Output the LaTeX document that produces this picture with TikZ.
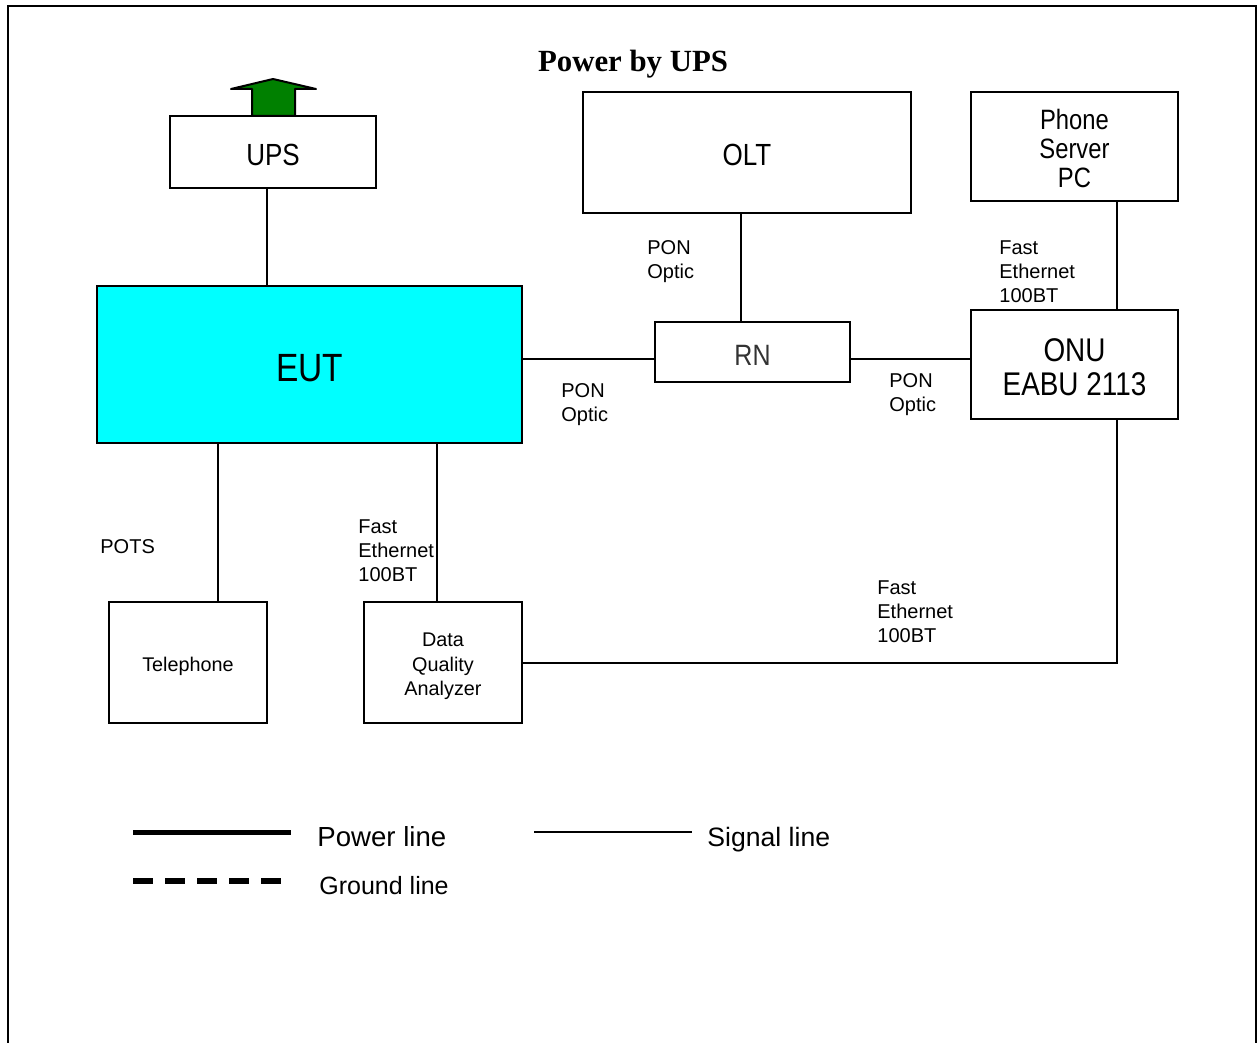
\documentclass[tikz,border=0pt]{standalone}
\usepackage{fontspec}
\setmainfont{Liberation Sans}
\newfontfamily\narrowfont{Liberation Sans}[FakeStretch=0.85]
\newfontfamily\titlefont{Liberation Serif}
\definecolor{eutcyan}{RGB}{0,255,255}
\definecolor{upsgreen}{RGB}{0,128,0}
\newcommand{\dn}[2]{\raisebox{-#1}[\height][\depth]{#2}}
\newcommand{\dnstack}[2]{\dn{#1}{\begin{tabular}{@{}c@{}}#2\end{tabular}}}
\tikzset{
  box/.style={draw, line width=1pt, inner sep=0pt, align=center},
  conn/.style={line width=1pt},
  lbl/.style={inner sep=0pt, anchor=north west, align=left, font=\fontsize{10pt}{12pt}\selectfont},
  bigtxt/.style={font=\narrowfont\fontsize{15.3pt}{17pt}\selectfont},
}
\begin{document}
\begin{tikzpicture}[x=0.5pt,y=-0.5pt]
\useasboundingbox (0,0) rectangle (1260,1043);
% frame
\draw[line width=1.2pt] (8,1043) -- (8,6) -- (1256,6) -- (1256,1043);
% title
\node[anchor=base, inner sep=0pt, font=\titlefont\bfseries\fontsize{15.4pt}{18pt}\selectfont] (title) at (633,72) {Power by UPS};
% boxes
\node[box, bigtxt, minimum width=103pt, minimum height=36pt] (ups) at (273,152) {\dn{1.5pt}{UPS}};
\node[box, fill=eutcyan, font=\narrowfont\fontsize{19.7pt}{22pt}\selectfont, minimum width=212.5pt, minimum height=78.5pt] (eut) at (309.5,364.5) {\dn{2pt}{EUT}};
\node[box, bigtxt, minimum width=164pt, minimum height=60.5pt] (olt) at (747,152.5) {\dn{1pt}{OLT}};
\node[box, font=\narrowfont\fontsize{14pt}{14.5pt}\selectfont, minimum width=103.5pt, minimum height=54.5pt] (psp) at (1074.5,146.5) {\dnstack{3pt}{Phone\\Server\\PC}};
\node[box, font=\narrowfont\fontsize{14.7pt}{17pt}\selectfont, text=black!80, minimum width=97.5pt, minimum height=30pt] (rn) at (752.5,352.5) {\dn{1.5pt}{RN}};
\node[box, font=\narrowfont\fontsize{16.4pt}{17pt}\selectfont, minimum width=103.5pt, minimum height=54.5pt] (onu) at (1074.5,364.5) {\dnstack{3.5pt}{ONU\\EABU 2113}};
\node[box, font=\fontsize{9.9pt}{12pt}\selectfont, minimum width=79pt, minimum height=60.5pt] (tel) at (188,662.5) {\dn{2pt}{Telephone}};
\node[box, font=\fontsize{9.9pt}{12.25pt}\selectfont, minimum width=79pt, minimum height=60.5pt] (dqa) at (443,662.5) {\dnstack{2pt}{Data\\Quality\\Analyzer}};
% UPS arrow
\draw[line width=1pt, fill=upsgreen, line join=round] (252,116) -- (252,89) -- (231,89) -- (273,79) -- (316,89) -- (295,89) -- (295,116) -- cycle;
% helper coordinates
\coordinate (hx) at (0,359);
\coordinate (vu) at (267,0);
\coordinate (vo) at (741,0);
\coordinate (vp) at (1117,0);
\coordinate (vt) at (218,0);
\coordinate (vd) at (437,0);
% connectors
\draw[conn] (ups.south -| vu) -- (eut.north -| vu);
\draw[conn] (olt.south -| vo) -- (rn.north -| vo);
\draw[conn] (eut.east |- hx) -- (rn.west |- hx);
\draw[conn] (rn.east |- hx) -- (onu.west |- hx);
\draw[conn] (psp.south -| vp) -- (onu.north -| vp);
\draw[conn] (onu.south -| vp) |- (dqa.east);
\draw[conn] (eut.south -| vt) -- (tel.north -| vt);
\draw[conn] (eut.south -| vd) -- (dqa.north -| vd);
% labels
\node[lbl] (l1) at (647,240) {PON\\Optic};
\node[lbl] (l2) at (999,240) {Fast\\Ethernet\\100BT};
\node[lbl] (l3) at (561,383) {PON\\Optic};
\node[lbl] (l4) at (889,373) {PON\\Optic};
\node[lbl] (l5) at (100,539) {POTS};
\node[lbl] (l6) at (358,519) {Fast\\Ethernet\\100BT};
\node[lbl] (l7) at (877,580) {Fast\\Ethernet\\100BT};
% legend
\coordinate (pa) at (133,832); \coordinate (pb) at (291,832);
\coordinate (sa) at (534,832); \coordinate (sb) at (692,832);
\coordinate (ga) at (133,881); \coordinate (gb) at (281,881);
\draw[line width=2.5pt] (pa) -- (pb);
\draw[line width=0.75pt] (sa) -- (sb);
\draw[line width=3pt, dash pattern=on 10pt off 6pt] (ga) -- (gb);
\node[anchor=base west, inner sep=0pt, font=\fontsize{13.8pt}{16pt}\selectfont] (tp) at (317,846) {Power line};
\node[anchor=base west, inner sep=0pt, font=\fontsize{13.3pt}{16pt}\selectfont] (ts) at (707,846) {Signal line};
\node[anchor=base west, inner sep=0pt, font=\fontsize{12.5pt}{15pt}\selectfont] (tg) at (319,894) {Ground line};
\end{tikzpicture}
\end{document}
